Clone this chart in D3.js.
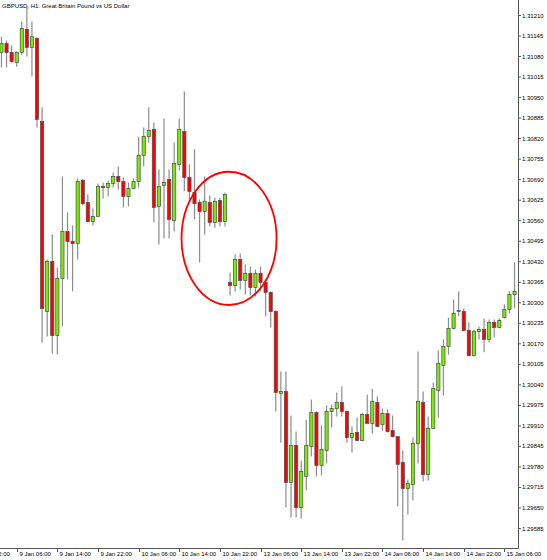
<!DOCTYPE html>
<html>
<head>
<meta charset="utf-8">
<script src="https://cdn.jsdelivr.net/npm/d3@7"></script>
<style>
  html, body { margin: 0; padding: 0; background: #fff; }
  svg { display: block; }
  text { font-family: "Liberation Sans", Arial, sans-serif; }
</style>
</head>
<body>
<svg id="chart" width="547" height="560"></svg>
<script>
// ---- DATA ----
const title = "GBPUSD, H1:  Great Britain Pound vs US Dollar";

// Bar times (H1): 9 Jan 03:00 .. 10 Jan 23:00, then 13 Jan 00:00 .. 15 Jan 08:00
const times = [
  ...d3.timeHour.range(new Date(2020, 0, 9, 3), new Date(2020, 0, 11, 0)),
  ...d3.timeHour.range(new Date(2020, 0, 13, 0), new Date(2020, 0, 15, 9))
];

const open = [
  1.31093,1.31121,1.31093,1.31061,1.31093,1.31166,1.31109,1.31137,1.30874,1.30272,
  1.30431,1.30196,1.30377,1.30526,1.30494,1.30488,1.30687,1.30618,1.30557,1.30573,
  1.30668,1.30665,1.30678,1.30700,1.30684,1.30637,1.30662,1.30684,1.30767,1.30827,
  1.30849,1.30605,1.30672,1.30691,1.30561,1.30738,1.30843,1.30697,1.30649,1.30618,
  1.30589,1.30618,1.30554,1.30624,1.30557,
  1.30364,1.30355,1.30437,1.30371,1.30393,1.30348,1.30393,1.30364,1.30333,1.30272,
  1.30013,1.30019,1.29731,1.29848,1.29652,1.29750,1.29845,1.29952,1.29785,1.29832,
  1.29956,1.29965,1.29984,1.29956,1.29873,1.29889,1.29864,1.29946,1.29918,1.29984,
  1.29914,1.29949,1.29895,1.29876,1.29794,1.29712,1.29724,1.29854,1.29984,1.29756,
  1.29902,1.30022,1.30101,1.30162,1.30219,1.30272,1.30272,1.30212,1.30133,1.30209,
  1.30215,1.30184,1.30238,1.30222,1.30253,1.30279,1.30326
];
const high = [
  1.31143,1.31131,1.31115,1.31096,1.31191,1.31239,1.31191,1.31140,1.30919,1.30437,
  1.30516,1.30412,1.30700,1.30586,1.30545,1.30694,1.30691,1.30643,1.30599,1.30678,
  1.30681,1.30687,1.30713,1.30732,1.30697,1.30681,1.30694,1.30824,1.30855,1.30919,
  1.30871,1.30722,1.30884,1.30722,1.30808,1.30884,1.30969,1.30738,1.30786,1.30627,
  1.30700,1.30640,1.30633,1.30633,1.30649,
  1.30396,1.30453,1.30456,1.30421,1.30415,1.30405,1.30415,1.30374,1.30336,1.30276,
  1.30082,1.30082,1.29943,1.29892,1.29800,1.29930,1.29994,1.29956,1.29911,1.29975,
  1.29978,1.30016,1.30035,1.29956,1.29908,1.29937,1.29952,1.30009,1.30028,1.30003,
  1.29965,1.29962,1.29943,1.29876,1.29832,1.29740,1.29873,1.30146,1.30019,1.29940,
  1.30047,1.30149,1.30184,1.30253,1.30310,1.30336,1.30282,1.30238,1.30215,1.30225,
  1.30250,1.30247,1.30247,1.30250,1.30295,1.30336,1.30428
];
const low = [
  1.31045,1.31045,1.31061,1.31048,1.31086,1.31080,1.31017,1.30855,1.30174,1.30193,
  1.30139,1.30136,1.30225,1.30374,1.30336,1.30437,1.30608,1.30554,1.30545,1.30573,
  1.30630,1.30637,1.30665,1.30659,1.30602,1.30605,1.30659,1.30665,1.30732,1.30808,
  1.30554,1.30485,1.30504,1.30504,1.30526,1.30719,1.30653,1.30621,1.30564,1.30428,
  1.30516,1.30542,1.30538,1.30542,1.30542,
  1.30323,1.30336,1.30342,1.30326,1.30323,1.30320,1.30336,1.30257,1.30222,1.29956,
  1.29857,1.29652,1.29620,1.29620,1.29617,1.29705,1.29813,1.29750,1.29753,1.29791,
  1.29905,1.29940,1.29940,1.29857,1.29826,1.29864,1.29861,1.29918,1.29886,1.29908,
  1.29895,1.29889,1.29873,1.29655,1.29547,1.29629,1.29674,1.29791,1.29734,1.29737,
  1.29902,1.29937,1.30006,1.30136,1.30215,1.30257,1.30209,1.30130,1.30130,1.30184,
  1.30143,1.30174,1.30190,1.30219,1.30250,1.30266,1.30282
];
const close = [
  1.31121,1.31093,1.31064,1.31093,1.31169,1.31109,1.31143,1.30881,1.30282,1.30431,
  1.30196,1.30377,1.30526,1.30494,1.30488,1.30684,1.30614,1.30557,1.30573,1.30668,
  1.30665,1.30678,1.30700,1.30684,1.30637,1.30662,1.30684,1.30767,1.30827,1.30846,
  1.30602,1.30668,1.30681,1.30564,1.30741,1.30849,1.30697,1.30653,1.30614,1.30589,
  1.30621,1.30554,1.30621,1.30557,1.30643,
  1.30355,1.30437,1.30371,1.30393,1.30348,1.30393,1.30364,1.30333,1.30272,1.30016,
  1.30019,1.29731,1.29848,1.29652,1.29766,1.29848,1.29952,1.29785,1.29835,1.29956,
  1.29965,1.29984,1.29956,1.29873,1.29886,1.29864,1.29946,1.29918,1.29987,1.29908,
  1.29949,1.29892,1.29876,1.29788,1.29712,1.29728,1.29854,1.29987,1.29756,1.29902,
  1.30028,1.30108,1.30162,1.30219,1.30266,1.30276,1.30212,1.30133,1.30209,1.30215,
  1.30184,1.30238,1.30222,1.30244,1.30279,1.30326,1.30336
];

const yTickValues = [
  1.31210,1.31145,1.31080,1.31015,1.30950,1.30885,1.30820,1.30755,1.30690,1.30625,
  1.30560,1.30495,1.30430,1.30365,1.30300,1.30235,1.30170,1.30105,1.30040,1.29975,
  1.29910,1.29845,1.29780,1.29715,1.29650,1.29585
];
const xTickLabels = [
  "8 Jan 22:00","9 Jan 06:00","9 Jan 14:00","9 Jan 22:00","10 Jan 06:00","10 Jan 14:00",
  "10 Jan 22:00","13 Jan 06:00","13 Jan 14:00","13 Jan 22:00","14 Jan 06:00",
  "14 Jan 14:00","14 Jan 22:00","15 Jan 06:00"
];
// highlighted zone (bar index of centre, price of centre, half-width in bars, half-height in price)
const highlight = { bar: 41.8 + 3, price: 1.30504, halfBars: 9.35, halfPrice: 0.00211 };

// ---- LAYOUT ----
const W = 547, H = 560;
const plotRight = 518, plotBottom = 548;
const barStep = 5.08;
const svg = d3.select("#chart");

const fmt = d3.timeFormat("%-d %b %H:%M");
const labels = times.map(fmt);

const x = d3.scaleLinear().domain([0, times.length - 1])
  .range([1.46, 1.46 + (times.length - 1) * barStep]);
const y = d3.scaleLinear().domain([1.29585, 1.31210]).range([528.5, 15.5]);

const bars = d3.range(times.length).map(i => ({
  i, o: open[i], h: high[i], l: low[i], c: close[i]
}));

// title
svg.append("text").attr("x", 2).attr("y", 8)
  .attr("font-size", 6).attr("fill", "#000").text(title);

// wicks
const g = svg.append("g");
g.selectAll("line.wick").data(bars).join("line")
  .attr("class", "wick")
  .attr("x1", d => x(d.i)).attr("x2", d => x(d.i))
  .attr("y1", d => y(d.h)).attr("y2", d => y(d.l))
  .attr("stroke", "#8c8c8c").attr("stroke-width", 1.2);

// bodies
const bw = 3.2;
g.selectAll("rect.body").data(bars).join("rect")
  .attr("class", "body")
  .attr("x", d => x(d.i) - bw / 2)
  .attr("y", d => y(Math.max(d.o, d.c)))
  .attr("width", bw)
  .attr("height", d => Math.max(1, Math.abs(y(d.o) - y(d.c))))
  .attr("fill", d => d.c >= d.o ? "#76ee00" : "#ff0000")
  .attr("stroke", "#4a4a4a").attr("stroke-width", 0.7);

// highlight ellipse
svg.append("ellipse")
  .attr("cx", x(highlight.bar))
  .attr("cy", y(highlight.price))
  .attr("rx", x(highlight.bar + highlight.halfBars) - x(highlight.bar))
  .attr("ry", y(highlight.price - highlight.halfPrice) - y(highlight.price))
  .attr("fill", "none").attr("stroke", "#ff0000").attr("stroke-width", 1.8);

// axes lines
svg.append("line").attr("x1", plotRight + 0.5).attr("x2", plotRight + 0.5)
  .attr("y1", 0).attr("y2", plotBottom + 0.5)
  .attr("stroke", "#555").attr("stroke-width", 1);
svg.append("line").attr("x1", 0).attr("x2", plotRight + 0.5)
  .attr("y1", plotBottom + 0.5).attr("y2", plotBottom + 0.5)
  .attr("stroke", "#555").attr("stroke-width", 1);

// y axis ticks and labels
const yAxisG = svg.append("g");
yTickValues.forEach(v => {
  const yy = y(v);
  yAxisG.append("line").attr("x1", plotRight).attr("x2", plotRight + 3)
    .attr("y1", yy).attr("y2", yy).attr("stroke", "#555");
  yAxisG.append("text").attr("x", plotRight + 4).attr("y", yy + 2)
    .attr("font-size", 6).attr("fill", "#000").text(v.toFixed(5));
});

// x axis ticks and labels
const xAxisG = svg.append("g");
const firstTime = times[0];
xTickLabels.forEach(lab => {
  let idx = labels.indexOf(lab);
  if (idx < 0) {
    // before the first bar: offset by hours
    const t = d3.timeParse("%d %b %Y %H:%M")(lab.replace(/^(\d+ \w+)/, "$1 2020"));
    idx = Math.round((t - firstTime) / 3600000);
  }
  const xx = Math.round(x(idx)) + 0.5;
  xAxisG.append("line").attr("x1", xx).attr("x2", xx)
    .attr("y1", plotBottom).attr("y2", plotBottom + 4).attr("stroke", "#555");
  xAxisG.append("text").attr("x", xx + 2).attr("y", 556)
    .attr("font-size", 6).attr("fill", "#000").text(lab);
});
</script>
</body>
</html>
